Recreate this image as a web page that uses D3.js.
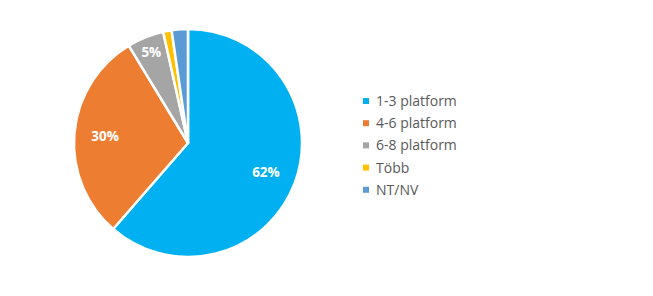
<!DOCTYPE html>
<html>
<head>
<meta charset="utf-8">
<script src="https://cdn.jsdelivr.net/npm/d3@7"></script>
<style>
  body { margin: 0; background: #fff; }
  svg { display: block; font-family: "Open Sans", Lato, sans-serif; }
</style>
</head>
<body>
<div id="chart"></div>
<script>
var categories = ['1-3 platform', '4-6 platform', '6-8 platform', 'Több', 'NT/NV'];
var values = [61.4, 29.9, 5.2, 1.2, 2.3];
var labels = ['62%', '30%', '5%', '', ''];
var colors = ['#00B0F0', '#ED7D31', '#A5A5A5', '#FFC000', '#5B9BD5'];

var width = 653, height = 296;
var radius = 114;
var cx = 188, cy = 143;

var svg = d3.select('#chart')
    .append('svg')
    .attr('width', width)
    .attr('height', height);

var data = categories.map(function (c, i) {
    return { name: c, value: values[i], label: labels[i], color: colors[i] };
});

var pie = d3.pie()
    .sort(null)
    .value(function (d) { return d.value; });

var arc = d3.arc().innerRadius(0).outerRadius(radius);

var g = svg.append('g')
    .attr('transform', `translate(${cx},${cy})`);

var slices = g.selectAll('.slice')
    .data(pie(data))
    .enter()
    .append('g')
    .attr('class', 'slice');

slices.append('path')
    .attr('d', arc)
    .attr('fill', function (d) { return d.data.color; })
    .attr('stroke', '#fff')
    .attr('stroke-width', 2.5)
    .attr('stroke-linejoin', 'round');

// big slices sit closer to the centre, small one near the edge
slices.append('text')
    .attr('transform', function (d) {
        var r = d.data.value > 20 ? radius * 0.73 : radius * 0.86;
        var a = (d.startAngle + d.endAngle) / 2;
        return `translate(${Math.sin(a) * r},${-Math.cos(a) * r})`;
    })
    .attr('text-anchor', 'middle')
    .attr('dy', '0.35em')
    .attr('fill', '#fff')
    .attr('font-weight', 'bold')
    .attr('font-size', 13.5)
    .text(function (d) { return d.data.label; });

var legend = svg.append('g')
    .attr('transform', 'translate(363,101)');

var item = legend.selectAll('.item')
    .data(data)
    .enter()
    .append('g')
    .attr('class', 'item')
    .attr('transform', function (d, i) { return `translate(0,${i * 22.2})`; });

item.append('rect')
    .attr('x', 0)
    .attr('y', -3)
    .attr('width', 6)
    .attr('height', 6)
    .attr('fill', function (d) { return d.color; });

item.append('text')
    .attr('x', 13)
    .attr('dy', '0.35em')
    .attr('font-size', 14)
    .attr('fill', '#595959')
    .text(function (d) { return d.name; });
</script>
</body>
</html>
